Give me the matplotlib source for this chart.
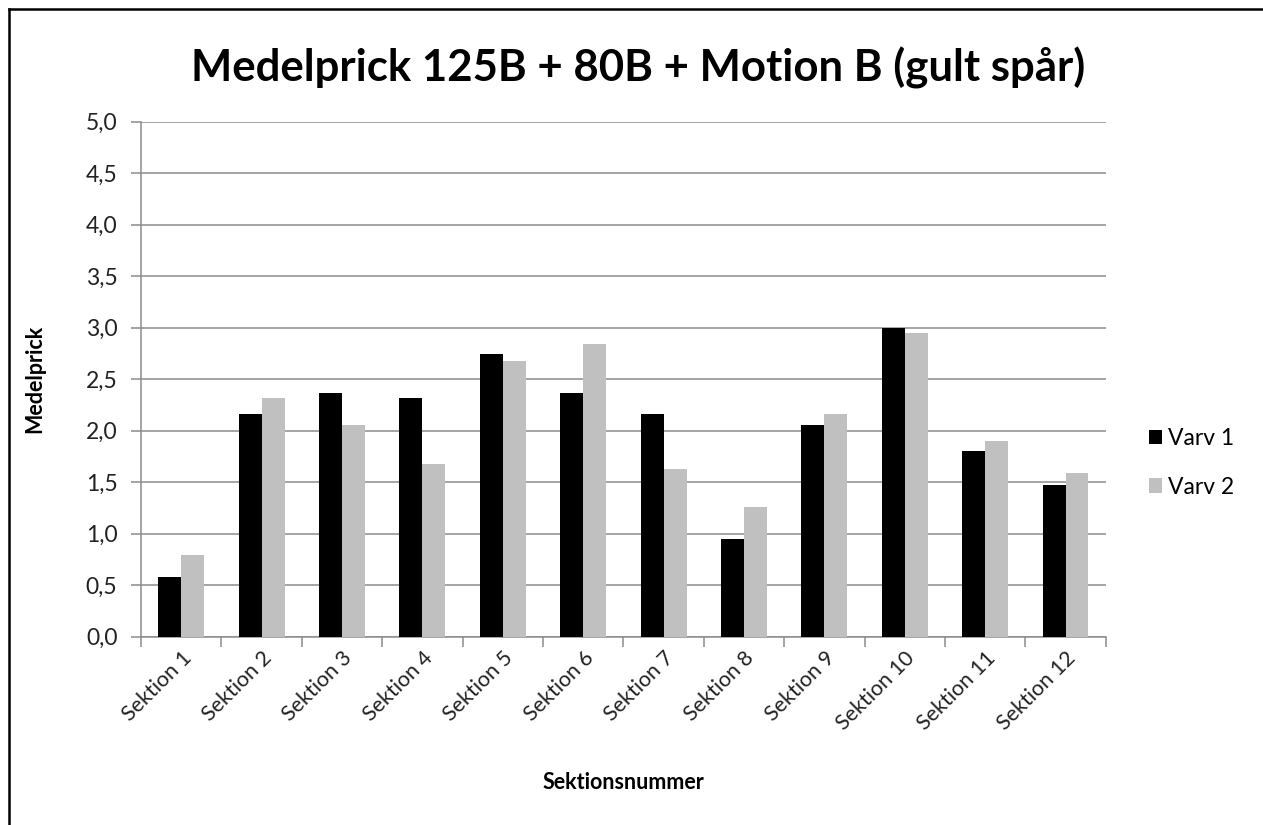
import numpy as np
import matplotlib
matplotlib.use("Agg")
import matplotlib.pyplot as plt
import matplotlib.transforms as mtransforms
from matplotlib.lines import Line2D

# data
sections = ["Sektion 1", "Sektion 2", "Sektion 3", "Sektion 4", "Sektion 5", "Sektion 6",
            "Sektion 7", "Sektion 8", "Sektion 9", "Sektion 10", "Sektion 11", "Sektion 12"]
varv1 = [0.58, 2.16, 2.37, 2.32, 2.74, 2.37, 2.16, 0.95, 2.06, 3.00, 1.80, 1.47]
varv2 = [0.79, 2.32, 2.06, 1.68, 2.68, 2.84, 1.63, 1.26, 2.16, 2.95, 1.90, 1.59]
y_ticks = [0.0, 0.5, 1.0, 1.5, 2.0, 2.5, 3.0, 3.5, 4.0, 4.5, 5.0]
y_tick_labels = ["0,0", "0,5", "1,0", "1,5", "2,0", "2,5", "3,0", "3,5", "4,0", "4,5", "5,0"]

plt.rcParams['font.family'] = ['Lato', 'DejaVu Sans']

fig = plt.figure(figsize=(12.63, 8.25), dpi=100)
ax = fig.add_axes([141/1263, 1 - 636.7/825, 964.7/1263, 515/825])

x = np.arange(len(sections))
w = 1 / 3.5  # gap width 150%
ax.bar(x - w/2, varv1, w, color='black', label='Varv 1', zorder=3)
ax.bar(x + w/2, varv2, w, color='#c0c0c0', label='Varv 2', zorder=3)

ax.set_xlim(-0.5, len(sections) - 0.5)
ax.set_ylim(0, 5)
ax.set_yticks(y_ticks)
ax.set_yticklabels(y_tick_labels, fontsize=16.5, color='#222222')
ax.yaxis.grid(True, color='#8c8c8c', linewidth=1.1, zorder=0)

# category ticks sit between the groups, labels at the centres
ax.set_xticks(np.arange(-0.5, len(sections)), minor=False)
ax.set_xticklabels([])
ax.set_xticks(x, minor=True)
ax.set_xticklabels(sections, minor=True, rotation=45, ha='right',
                   rotation_mode='anchor', fontsize=15.5, color='#222222')
shift = mtransforms.ScaledTranslation(-9/100, 0, fig.dpi_scale_trans)
for lab in ax.get_xticklabels(minor=True):
    lab.set_transform(lab.get_transform() + shift)
ax.tick_params(axis='x', which='major', length=7, color='#8c8c8c', width=1.1)
ax.tick_params(axis='x', which='minor', length=0, pad=8)
ax.tick_params(axis='y', length=7, color='#8c8c8c', width=1.1, pad=10)

for side in ['top', 'right']:
    ax.spines[side].set_visible(False)
for side in ['left', 'bottom']:
    ax.spines[side].set_color('#8c8c8c')
    ax.spines[side].set_linewidth(1.1)

ax.set_ylabel('Medelprick', fontsize=15.5, fontweight='bold')
ax.yaxis.set_label_coords(-0.099, 0.5)
ax.set_xlabel('Sektionsnummer', fontsize=15.5, fontweight='bold')
ax.xaxis.set_label_coords(0.5, -0.263)
fig.text(0.505, 1 - 68/825, 'Medelprick 125B + 80B + Motion B (gult spår)',
         ha='center', va='center', fontsize=31.5, fontweight='bold')

fig.legend(loc='center left', bbox_to_anchor=(1128/1263, 1 - 463/825), frameon=False,
           fontsize=16.5, handlelength=0.6, handleheight=0.6, handletextpad=0.25,
           labelspacing=1.2)

# frame lines on the top and left edge of the picture
fig.add_artist(Line2D([8.5/1263, 1], [1 - 9/825, 1 - 9/825], color='black', linewidth=1.8))
fig.add_artist(Line2D([8.5/1263, 8.5/1263], [0, 1 - 9/825], color='black', linewidth=1.8))

fig.savefig('out.png', dpi=100)
